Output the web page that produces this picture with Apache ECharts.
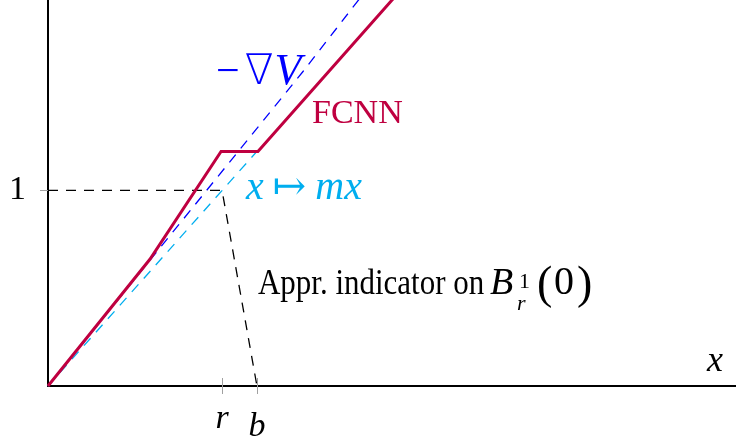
<!DOCTYPE html>
<html>
<head>
<meta charset="utf-8">
<script src="https://cdn.jsdelivr.net/npm/echarts@6/dist/echarts.min.js"></script>
<style>
  html, body { margin: 0; background: #fff; }
  #chart { width: 736px; height: 444px; }
</style>
</head>
<body>
<div id="chart"></div>
<script>
// values (1 unit = 196 px on both axes)
const rVal = 0.888
const bVal = 1.066
const xMax = 3.51
const yMax = 1.974
const xTickValues = [rVal, bVal]
const xTickLabels = ['r', 'b']
const yTickValues = [1]
const yTickLabels = ['1']

const fcnnPoints = [[0, 0], [0.52, 0.648], [0.883, 1.199], [1.071, 1.199], [1.84, 2.07]]
const gradVPoints = [[0, 0], [1.30, 1.607], [1.62, 2.02]]
const mxPoints = [[0, 0], [1.066, 1.2]]
const indicatorPoints = [[0, 1], [0.888, 1], [1.066, 0]]

const serif = '"Liberation Serif", "DejaVu Serif", serif'
const thinSymbol = '"DejaVu Sans", sans-serif'
const purple = '#BF0040'
const blue = '#0000FF'
const cyan = '#00AEEF'
const tickGrey = '#a0a0a0'

const myChart = echarts.init(document.getElementById('chart'))

const xBase = {
  type: 'value',
  min: 0,
  max: xMax,
  position: 'bottom',
  splitLine: { show: false }
}
const yBase = {
  type: 'value',
  min: 0,
  max: yMax,
  position: 'left',
  splitLine: { show: false }
}

function lineSeries(data, color, width, dashed, z) {
  return {
    type: 'line',
    data: data,
    symbol: 'none',
    silent: true,
    z: z,
    lineStyle: {
      color: color,
      width: width,
      type: dashed ? [10, 8] : 'solid',
      cap: 'butt',
      join: 'miter'
    }
  }
}

// text placed by baseline: top of line box ~ baseline - 0.84 * size
function txt(x, baseline, text, size, extra) {
  return {
    type: 'text',
    x: x,
    y: baseline - 0.84 * size,
    silent: true,
    ...extra,
    style: { text: text, fontFamily: serif, fontSize: size, fill: '#000', ...(extra && extra.style) }
  }
}

const option = {
  animation: false,
  grid: { left: 48, top: 0, right: 0, bottom: 57 },
  xAxis: [
    {
      ...xBase,
      axisLine: { lineStyle: { color: '#000', width: 2 } },
      axisTick: { show: true, customValues: xTickValues, length: 8, lineStyle: { color: tickGrey, width: 1 } },
      axisLabel: {
        customValues: xTickValues,
        margin: 16,
        formatter: v => {
          const t = xTickLabels[xTickValues.indexOf(v)]
          return '{' + t + '|' + t + '}'
        },
        rich: {
          r: { fontFamily: serif, fontStyle: 'italic', fontSize: 34, color: '#000', padding: [0, 0, 0, 0] },
          b: { fontFamily: serif, fontStyle: 'italic', fontSize: 34, color: '#000', padding: [8, 0, 0, 0] }
        }
      }
    },
    {
      ...xBase,
      axisLine: { show: false },
      axisTick: { show: true, inside: true, customValues: xTickValues, length: 8, lineStyle: { color: tickGrey, width: 1 } },
      axisLabel: { show: false }
    }
  ],
  yAxis: [
    {
      ...yBase,
      axisLine: { show: true, lineStyle: { color: '#000', width: 2 } },
      axisTick: { show: true, customValues: yTickValues, length: 8, lineStyle: { color: tickGrey, width: 1 } },
      axisLabel: {
        customValues: yTickValues,
        margin: 22,
        fontFamily: serif,
        fontSize: 34,
        color: '#000',
        formatter: v => yTickLabels[yTickValues.indexOf(v)]
      }
    },
    {
      ...yBase,
      axisLine: { show: false },
      axisTick: { show: true, inside: true, customValues: yTickValues, length: 10, lineStyle: { color: tickGrey, width: 1 } },
      axisLabel: { show: false }
    }
  ],
  series: [
    lineSeries(indicatorPoints, '#000', 1.3, true, 1),
    lineSeries(mxPoints, cyan, 1.3, true, 2),
    lineSeries(gradVPoints, blue, 1.3, true, 3),
    lineSeries(fcnnPoints, purple, 3, false, 4)
  ],
  graphic: [
    txt(216, 86, '', 42, {
      style: {
        text: '{m|−}{n|∇}{i|V}',
        rich: {
          m: { fontFamily: serif, fontSize: 42, fill: blue, padding: [0, 3, 0, 0] },
          n: { fontFamily: thinSymbol, fontWeight: 200, fontSize: 42, fill: blue, padding: [0, 1, 0, 2] },
          i: { fontFamily: serif, fontStyle: 'italic', fontSize: 44, fill: blue }
        }
      }
    }),
    txt(312, 126, 'FCNN', 34, { style: { fill: purple } }),
    txt(246, 202, '', 40, {
      style: {
        text: '{i|x}{u|↦}{i|mx}',
        rich: {
          u: { fontFamily: serif, fontSize: 40, fill: cyan, padding: [0, 9, 0, 9] },
          i: { fontFamily: serif, fontStyle: 'italic', fontSize: 40, fill: cyan }
        }
      }
    }),
    txt(258, 297, 'Appr. indicator on', 36, { scaleX: 0.86 }),
    txt(490, 297, 'B', 38, { style: { fontStyle: 'italic' } }),
    txt(519, 290, '1', 22),
    txt(517, 312, 'r', 22, { style: { fontStyle: 'italic' } }),
    txt(537, 302, '(', 46),
    txt(554, 297, '0', 40),
    txt(577, 302, ')', 46),
    txt(707, 374, 'x', 36, { style: { fontStyle: 'italic' } })
  ]
}

myChart.setOption(option)
</script>
</body>
</html>
